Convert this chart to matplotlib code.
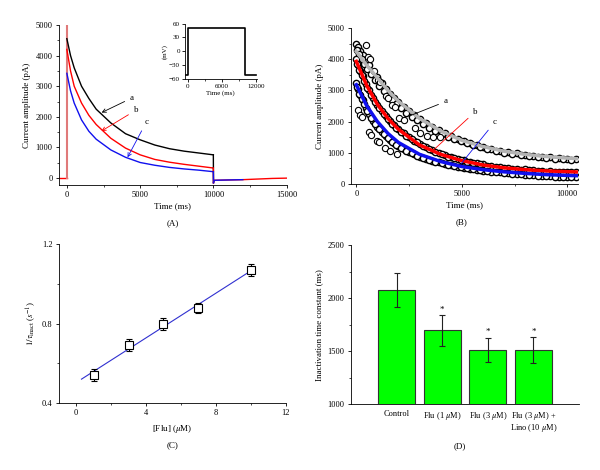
import matplotlib
matplotlib.use("Agg")
import matplotlib.pyplot as plt
from matplotlib.ticker import MultipleLocator

plt.rcParams['font.family'] = ['Liberation Serif', 'DejaVu Serif']
plt.rcParams['mathtext.fontset'] = 'stix'
plt.rcParams['font.size'] = 6
plt.rcParams['axes.linewidth'] = 0.6
plt.rcParams['xtick.major.width'] = 0.6
plt.rcParams['ytick.major.width'] = 0.6
plt.rcParams['xtick.minor.width'] = 0.5
plt.rcParams['ytick.minor.width'] = 0.5
plt.rcParams['xtick.major.size'] = 2.5
plt.rcParams['ytick.major.size'] = 2.5
plt.rcParams['xtick.minor.size'] = 1.5
plt.rcParams['ytick.minor.size'] = 1.5

# ---- panel A: current traces (pA) ----
trace_t = [0, 250, 500, 1000, 1500, 2000, 3000, 4000, 5000, 6000, 7000, 8000, 9000, 9990]
trace_a = [4550, 4000, 3600, 3000, 2600, 2250, 1800, 1450, 1250, 1080, 960, 880, 820, 760]
trace_b = [4200, 3500, 3000, 2450, 2050, 1750, 1300, 980, 760, 610, 520, 450, 390, 330]
trace_c = [3420, 2850, 2450, 1900, 1530, 1270, 920, 680, 510, 420, 350, 300, 260, 210]
tail_t = [10000, 10060, 11000, 12000, 13000, 14000, 15000]
tail_v = [-150, -70, -60, -50, -30, -10, 0]
pre_t = [-550, 0]
pre_v = [0, 0]

# inset: voltage protocol (mV)
step_t = [-300, 0, 0, 10000, 10000, 12000]
step_v = [-50, -50, 50, 50, -50, -50]

# ---- panel B: raw currents and fits ----
raw_t = [0, 100, 200, 300, 450, 600, 800, 1000, 1200, 1400, 1600, 1800, 2000, 2250, 2500,
         2750, 3000, 3300, 3600, 3900, 4200, 4500, 4800, 5100, 5400, 5700, 6000, 6400,
         6800, 7200, 7600, 8000, 8400, 8800, 9200, 9600, 10000, 10400]
raw_a = [4500, 4380, 4250, 4120, 3950, 3800, 3600, 3420, 3230, 3060, 2900, 2760, 2620, 2480, 2330,
         2200, 2080, 1950, 1830, 1720, 1620, 1540, 1450, 1380, 1310, 1250, 1190, 1130,
         1070, 1020, 980, 940, 900, 880, 850, 830, 810, 790]
raw_b = [4000, 3800, 3620, 3450, 3220, 3000, 2750, 2530, 2340, 2170, 2020, 1880, 1760, 1620, 1500,
         1390, 1290, 1180, 1090, 1000, 930, 870, 810, 760, 710, 670, 630, 590,
         550, 520, 490, 470, 450, 430, 410, 400, 390, 380]
raw_c = [3250, 3050, 2850, 2680, 2450, 2250, 2030, 1840, 1680, 1540, 1420, 1310, 1220, 1120, 1030,
         950, 880, 810, 750, 690, 640, 600, 560, 520, 490, 460, 430, 400,
         370, 340, 320, 300, 280, 260, 250, 240, 230, 220]
raw_t2 = [50, 150, 250, 375, 525, 700, 900, 1100, 1300, 1500, 1700, 1900, 2125, 2375, 2625,
          2875, 3150, 3450, 3750, 4050, 4350, 4650, 4950, 5250, 5550, 5850, 6200, 6600,
          7000, 7400, 7800, 8200, 8600, 9000, 9400, 9800, 10200]
raw_a2 = [4300, 4150, 4020, 3850, 3700, 3520, 3330, 3150, 2980, 2830, 2690, 2560, 2420, 2280, 2150,
          2040, 1930, 1810, 1700, 1610, 1520, 1440, 1370, 1300, 1240, 1180, 1110, 1050,
          1000, 960, 920, 890, 860, 840, 810, 790, 770]
raw_b2 = [3850, 3650, 3480, 3300, 3080, 2850, 2620, 2420, 2240, 2080, 1930, 1800, 1670, 1540, 1430,
          1330, 1220, 1120, 1030, 950, 880, 820, 760, 710, 670, 630, 580, 540,
          510, 480, 460, 440, 420, 400, 390, 380, 370]
raw_c2 = [3100, 2900, 2730, 2550, 2330, 2120, 1920, 1750, 1600, 1470, 1360, 1260, 1160, 1070, 990,
          910, 840, 770, 710, 660, 610, 570, 530, 500, 470, 440, 410, 380,
          350, 330, 310, 290, 270, 250, 240, 230, 220]
stray_t = [470, 560, 630, 830, 1030, 1140, 1430, 1490, 1690, 1850, 2040, 2240, 2790, 3030, 3340,
           3650, 3970, 80, 170, 250, 600, 720, 960, 1100, 1380, 1610, 1930]
stray_v = [4440, 4070, 3990, 3630, 3340, 3260, 2830, 2740, 2540, 2470, 2120, 2040, 1790, 1630, 1530,
           1500, 1500, 2380, 2220, 2150, 1660, 1580, 1370, 1340, 1150, 1050, 960]
fit_t = [0, 500, 1000, 1500, 2000, 3000, 4000, 5000, 6000, 7000, 8000, 9000, 10000, 10500]
fit_a = [4250, 3800, 3400, 3000, 2650, 2100, 1700, 1400, 1200, 1050, 950, 880, 830, 810]
fit_b = [3930, 3150, 2550, 2100, 1750, 1250, 950, 750, 610, 520, 460, 420, 395, 385]
fit_c = [3180, 2500, 2000, 1620, 1330, 950, 720, 560, 460, 390, 340, 300, 275, 265]

# ---- panel C: 1/tau vs [Flu] ----
flu = [1, 3, 5, 7, 10]
inv_tau = [0.54, 0.69, 0.80, 0.88, 1.07]
inv_tau_err = [0.03, 0.03, 0.03, 0.025, 0.03]
line_x = [0.3, 10]
line_y = [0.52, 1.065]

# ---- panel D: inactivation time constant ----
groups = ['Control', 'Flu (1 $\\mu$M)', 'Flu (3 $\\mu$M)', 'Flu (3 $\\mu$M) +\nLino (10 $\\mu$M)']
tau = [2075, 1695, 1510, 1510]
tau_err = [160, 145, 115, 120]
signif = ['', '*', '*', '*']

fig = plt.figure(figsize=(6, 4.7), dpi=100)


def style(ax):
    ax.spines['top'].set_visible(False)
    ax.spines['right'].set_visible(False)
    ax.tick_params(which='both', direction='out', labelsize=6, pad=2)


# panel A
ax1 = fig.add_axes([0.098, 0.606, 0.38, 0.341])
ax1.plot(pre_t, pre_v, color='red', lw=1)
ax1.plot([0, 0], [0, 5200], color='#e07a7a', lw=1.5)
ax1.plot(trace_t, trace_a, color='black', lw=1)
ax1.plot(trace_t, trace_b, color='red', lw=1)
ax1.plot(trace_t, trace_c, color='#1010ee', lw=1)
ax1.plot([trace_t[-1], tail_t[0]], [trace_a[-1], tail_v[0]], color='black', lw=1)
ax1.plot([trace_t[-1], tail_t[0]], [trace_b[-1], tail_v[0]], color='red', lw=1)
ax1.plot([trace_t[-1], tail_t[0]], [trace_c[-1], tail_v[0]], color='#1010ee', lw=1)
ax1.plot(tail_t, tail_v, color='red', lw=1)
ax1.plot(tail_t[:4], tail_v[:4], color='#1010ee', lw=1)
ax1.set_xlim(-550, 15000)
ax1.set_ylim(-230, 5000)
ax1.set_xticks([0, 5000, 10000, 15000])
ax1.set_yticks([0, 1000, 2000, 3000, 4000, 5000])
ax1.xaxis.set_minor_locator(MultipleLocator(2500))
ax1.yaxis.set_minor_locator(MultipleLocator(500))
ax1.set_xlabel('Time (ms)', fontsize=6.5, labelpad=2)
ax1.set_ylabel('Current amplitude (pA)', fontsize=6.5, labelpad=3)
style(ax1)
ax1.annotate('a', xy=(2200, 2100), xytext=(4300, 2550), fontsize=6.5,
             arrowprops=dict(arrowstyle='->', color='black', lw=0.6))
ax1.annotate('b', xy=(2200, 1490), xytext=(4550, 2150), fontsize=6.5,
             arrowprops=dict(arrowstyle='->', color='red', lw=0.6))
ax1.annotate('c', xy=(4050, 600), xytext=(5300, 1780), fontsize=6.5,
             arrowprops=dict(arrowstyle='->', color='#1010ee', lw=0.6))
fig.text(0.288, 1 - 223 / 470, '(A)', ha='center', va='center', fontsize=6.5)

# inset
axi = fig.add_axes([0.308, 0.831, 0.12, 0.119])
axi.plot(step_t, step_v, color='black', lw=1.2)
axi.set_xlim(-500, 12100)
axi.set_ylim(-60, 60)
axi.set_xticks([0, 6000, 12000])
axi.set_yticks([-60, -30, 0, 30, 60])
axi.set_yticklabels(['\u221260', '\u221230', '0', '30', '60'])
axi.xaxis.set_minor_locator(MultipleLocator(3000))
axi.set_xlabel('Time (ms)', fontsize=5, labelpad=1)
axi.set_ylabel('(mV)', fontsize=5, labelpad=1)
style(axi)
axi.tick_params(which='both', labelsize=5, pad=1)

# panel B
ax2 = fig.add_axes([0.585, 0.6085, 0.378, 0.332])
for tt, vv in [(raw_t, raw_a), (raw_t2, raw_a2), (raw_t, raw_b), (raw_t2, raw_b2),
               (raw_t, raw_c), (raw_t2, raw_c2)]:
    ax2.plot(tt, vv, 'o', ms=4.5, mfc='white', mec='black', mew=1.0)
ax2.plot(stray_t, stray_v, 'o', ms=4.5, mfc='white', mec='black', mew=0.8)
ax2.plot(fit_t, fit_a, color='#b4b4b4', lw=2.5)
ax2.plot(fit_t, fit_b, color='red', lw=2.5)
ax2.plot(fit_t, fit_c, color='#1010ee', lw=2.5)
ax2.set_xlim(-250, 10500)
ax2.set_ylim(0, 5000)
ax2.set_xticks([0, 5000, 10000])
ax2.set_yticks([0, 1000, 2000, 3000, 4000, 5000])
ax2.xaxis.set_minor_locator(MultipleLocator(2500))
ax2.yaxis.set_minor_locator(MultipleLocator(500))
ax2.set_xlabel('Time (ms)', fontsize=6.5, labelpad=2)
ax2.set_ylabel('Current amplitude (pA)', fontsize=6.5, labelpad=3)
style(ax2)
ax2.annotate('a', xy=(2480, 2170), xytext=(4150, 2580), fontsize=6.5,
             arrowprops=dict(arrowstyle='-', color='black', lw=0.6))
ax2.annotate('b', xy=(3500, 990), xytext=(5530, 2250), fontsize=6.5,
             arrowprops=dict(arrowstyle='-', color='red', lw=0.6))
ax2.annotate('c', xy=(4900, 590), xytext=(6470, 1920), fontsize=6.5,
             arrowprops=dict(arrowstyle='-', color='#1010ee', lw=0.6))
fig.text(0.77, 1 - 222 / 470, '(B)', ha='center', va='center', fontsize=6.5)

# panel C
ax3 = fig.add_axes([0.098, 0.1426, 0.378, 0.338])
ax3.plot(line_x, line_y, color='#3030d0', lw=0.8)
ax3.errorbar(flu, inv_tau, yerr=inv_tau_err, fmt='s', ms=6, mfc='white', mec='black',
             mew=0.8, ecolor='black', elinewidth=0.8, capsize=2, capthick=0.8)
ax3.set_xlim(-1, 12)
ax3.set_ylim(0.4, 1.2)
ax3.set_xticks([0, 4, 8, 12])
ax3.set_yticks([0.4, 0.8, 1.2])
ax3.xaxis.set_minor_locator(MultipleLocator(2))
ax3.yaxis.set_minor_locator(MultipleLocator(0.2))
ax3.set_xlabel('[Flu] ($\\mu$M)', fontsize=6.5, labelpad=4)
ax3.set_ylabel('$1/\\tau_{\\rm inact}$ ($s^{-1}$)', fontsize=6.5, labelpad=3)
style(ax3)
fig.text(0.288, 1 - 445 / 470, '(C)', ha='center', va='center', fontsize=6.5)

# panel D
ax4 = fig.add_axes([0.585, 0.1404, 0.38, 0.338])
pos = list(range(len(groups)))
ax4.bar(pos, tau, width=0.82, color='#00ff00', edgecolor='#333333', lw=0.8)
ax4.errorbar(pos, tau, yerr=tau_err, fmt='none', ecolor='#222222', elinewidth=0.8,
             capsize=2.5, capthick=0.8)
for p, v, e, s in zip(pos, tau, tau_err, signif):
    if s:
        ax4.text(p, v + e + 15, s, ha='center', va='bottom', fontsize=6.5)
ax4.set_xlim(-1, 4)
ax4.set_ylim(1000, 2500)
ax4.set_xticks(pos)
ax4.set_xticklabels(groups, fontsize=6.5, linespacing=1.0)
ax4.set_yticks([1000, 1500, 2000, 2500])
ax4.yaxis.set_minor_locator(MultipleLocator(250))
ax4.set_ylabel('Inactivation time constant (ms)', fontsize=6.5, labelpad=3)
style(ax4)
ax4.tick_params(axis='x', length=0, pad=4)
fig.text(0.767, 1 - 446 / 470, '(D)', ha='center', va='center', fontsize=6.5)

fig.savefig('out.png', dpi=100)
